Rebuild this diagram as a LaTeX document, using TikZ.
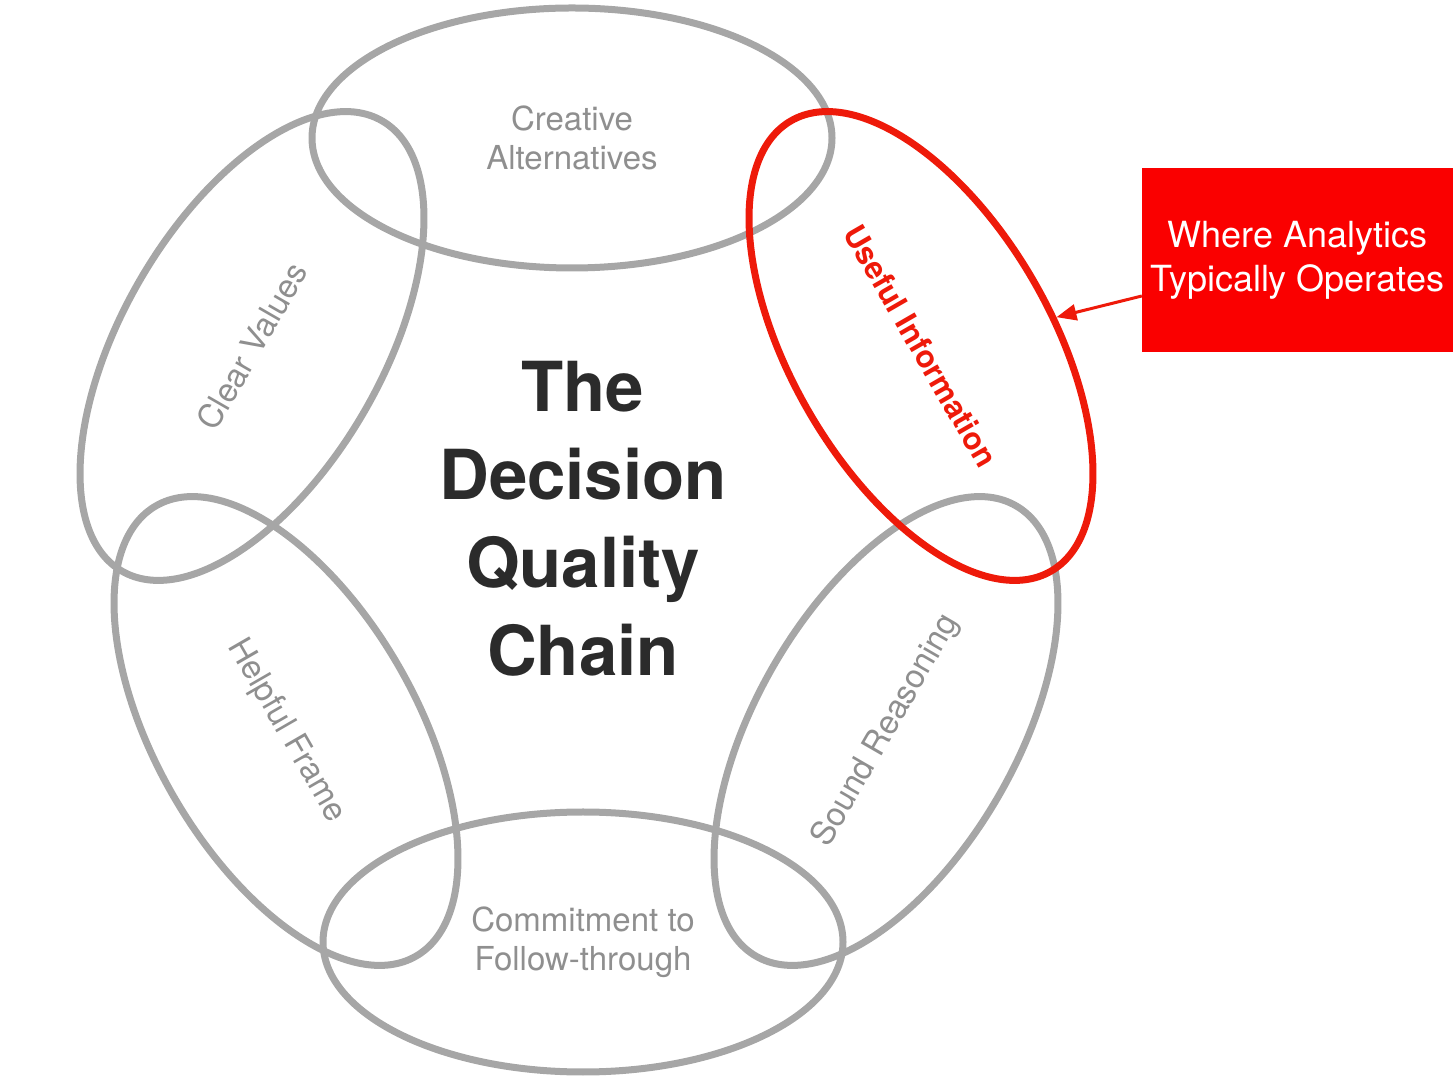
\documentclass[tikz,border=0pt]{standalone}
\usepackage{fontspec}
\setmainfont{TeX Gyre Heros}
\usepackage{tikz}
\usetikzlibrary{arrows.meta,shapes.geometric}
\definecolor{ringgray}{RGB}{166,166,166}
\definecolor{lblgray}{RGB}{143,143,143}
\definecolor{titleink}{RGB}{43,43,43}
\definecolor{hotred}{RGB}{238,26,10}
\definecolor{boxred}{RGB}{250,0,0}
\tikzset{
  ring/.style={draw=ringgray, line width=7pt, ellipse, minimum width=520pt,
    minimum height=260pt, inner sep=0pt, align=center, text=lblgray,
    font=\fontsize{33}{39}\selectfont},
  redring/.style={ring, draw=hotred, line width=7pt, text=hotred,
    font=\bfseries\fontsize{31}{36}\selectfont},
  title/.style={align=center, text=titleink, font=\bfseries\fontsize{69}{88}\selectfont},
  callout/.style={fill=boxred, text=white, align=center, minimum width=311pt,
    minimum height=184pt, font=\fontsize{36}{44}\selectfont},
  pointer/.style={draw=hotred, line width=3pt, -{Triangle[length=20pt,width=16pt]}}
}
\begin{document}
\begin{tikzpicture}[x=1pt, y=1pt]
  \useasboundingbox (0,0) rectangle (1454,1082);
  % the six links of the chain
  \node[ring] (creative) at (572,944) {Creative\\Alternatives};
  \node[ring, rotate=60] (values) at (252,736) {Clear Values};
  \node[ring, rotate=-60] (frame) at (286,351) {Helpful Frame};
  \node[ring] (commit) at (583,140) {Commitment to\\Follow-through};
  \node[ring, rotate=60] (reason) at (886,351) {Sound Reasoning};
  \node[redring, rotate=-60] (info) at (921,736) {Useful Information};

  \node[title] (chain) at (583,563) {The\\Decision\\Quality\\Chain};

  \node[callout] (where) at (1297.5,822) {Where Analytics\\Typically Operates};
  \draw[pointer] ([yshift=-36pt]where.west) -- (info.72);
\end{tikzpicture}
\end{document}
